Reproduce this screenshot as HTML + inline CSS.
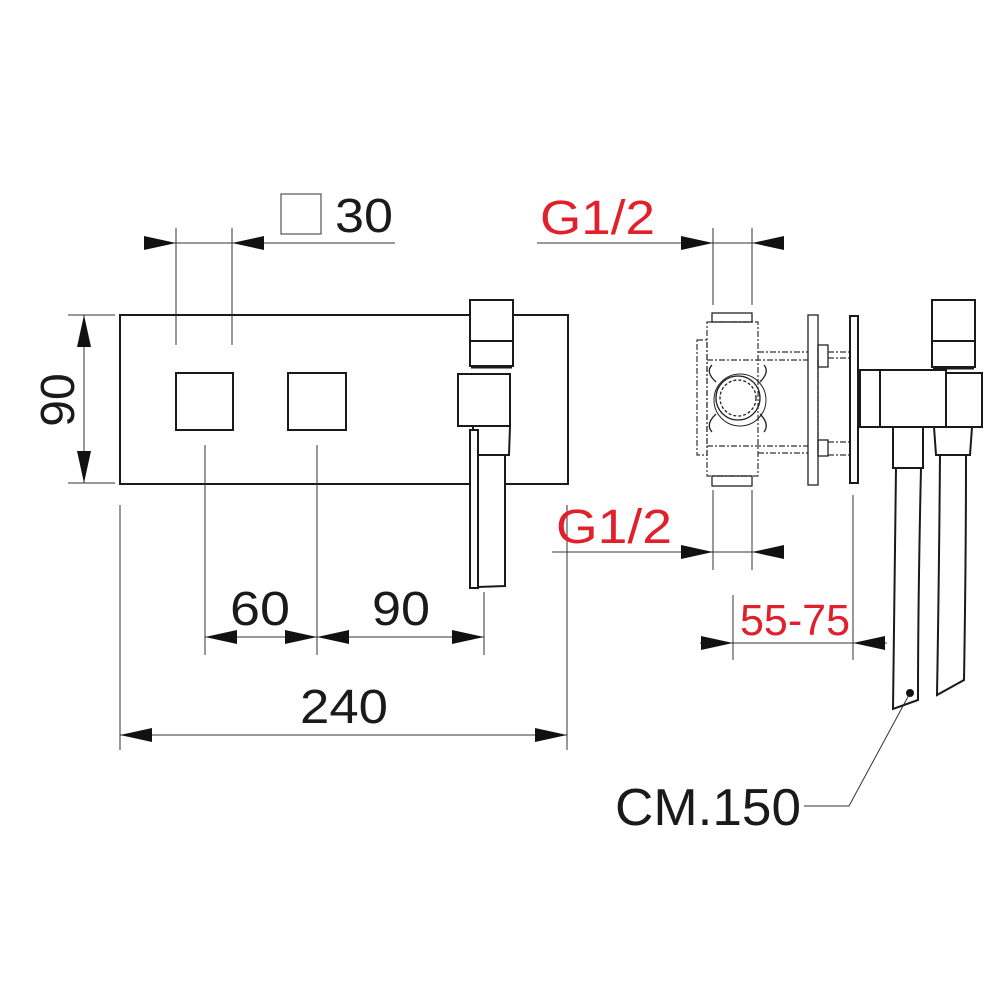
<!DOCTYPE html>
<html><head><style>html,body{margin:0;padding:0;background:#fff}svg{display:block}</style></head>
<body>
<svg width="1000" height="1000" viewBox="0 0 1000 1000" xmlns="http://www.w3.org/2000/svg" font-family="Liberation Sans, Arial, sans-serif">
<g fill="none" stroke="#1a1a1a" stroke-width="2">
<rect x="120" y="315" width="448" height="169"/>
<rect x="176" y="373" width="57" height="57"/>
<rect x="288" y="373" width="58" height="57"/>
<rect x="470" y="300" width="43" height="66" fill="#fff"/>
<line x1="470" y1="341" x2="513" y2="341"/>
<line x1="471" y1="367" x2="512" y2="367" stroke-width="3"/>
<rect x="458" y="374" width="52" height="52" fill="#fff"/>
<polygon points="473,426 510,426 509,455 473,455" fill="#fff"/>
<polygon points="470,430 478,430 478,588 470,588" fill="#fff"/>
<polygon points="478,455 505,455 505,586 478,587" fill="#fff"/>
</g>
<g fill="none" stroke="#333" stroke-width="1">
<line x1="176" y1="228" x2="176" y2="345"/><line x1="232" y1="228" x2="232" y2="345"/>
<line x1="144" y1="243" x2="395" y2="243"/>
<rect x="281" y="194" width="40" height="40"/>
<line x1="68" y1="315" x2="115" y2="315"/><line x1="68" y1="483" x2="115" y2="483"/>
<line x1="84" y1="315" x2="84" y2="483"/>
<line x1="205" y1="445" x2="205" y2="655"/><line x1="317" y1="445" x2="317" y2="655"/>
<line x1="484" y1="592" x2="484" y2="655"/>
<line x1="205" y1="637" x2="484" y2="637"/>
<line x1="120" y1="505" x2="120" y2="750"/><line x1="567" y1="505" x2="567" y2="750"/>
<line x1="120" y1="735" x2="567" y2="735"/>
<line x1="537" y1="243" x2="783" y2="243"/>
<line x1="713" y1="228" x2="713" y2="305"/><line x1="752" y1="228" x2="752" y2="305"/>
<line x1="713" y1="490" x2="713" y2="570"/><line x1="752" y1="490" x2="752" y2="570"/>
<line x1="552" y1="552" x2="783" y2="552"/>
<line x1="733" y1="595" x2="733" y2="660"/><line x1="853" y1="495" x2="853" y2="660"/>
<line x1="700" y1="643" x2="887" y2="643"/>
<polyline points="804,806 849,806 910,693"/>
</g>
<g fill="#111">
<polygon points="144,236 176,243 144,250"/><polygon points="264,236 232,243 264,250"/>
<polygon points="77,347 84,315 91,347"/><polygon points="77,451 84,483 91,451"/>
<polygon points="237,630 205,637 237,644"/><polygon points="285,630 317,637 285,644"/>
<polygon points="349,630 317,637 349,644"/><polygon points="452,630 484,637 452,644"/>
<polygon points="152,728 120,735 152,742"/><polygon points="535,728 567,735 535,742"/>
<polygon points="681,236 713,243 681,250"/><polygon points="784,236 752,243 784,250"/>
<polygon points="681,545 713,552 681,559"/><polygon points="784,545 752,552 784,559"/>
<polygon points="701,636 733,643 701,650"/><polygon points="885,636 853,643 885,650"/>
<circle cx="910" cy="693" r="4"/>
</g>
<g fill="none" stroke="#333" stroke-width="1.2" stroke-dasharray="6,2,2,2">
<rect x="707" y="322" width="51" height="154"/>
<rect x="697" y="340" width="10" height="115"/>
<line x1="707" y1="360" x2="808" y2="360"/><line x1="707" y1="446" x2="808" y2="446"/>
<line x1="758" y1="352" x2="808" y2="352"/><line x1="758" y1="453" x2="808" y2="453"/>
<line x1="828" y1="352" x2="850" y2="352"/><line x1="828" y1="358" x2="850" y2="358"/>
<line x1="828" y1="442" x2="850" y2="442"/><line x1="828" y1="455" x2="850" y2="455"/>
<line x1="818" y1="360" x2="818" y2="450"/>
</g>
<g fill="none" stroke="#222" stroke-width="1.3">
<rect x="712" y="313" width="40" height="9"/><rect x="712" y="476" width="40" height="10"/>
<circle cx="738" cy="398" r="22"/><circle cx="738" cy="398" r="18" stroke-dasharray="3,2"/>
<circle cx="740" cy="400" r="26" stroke-width="1"/>
<rect x="808" y="315" width="10" height="170"/>
<rect x="818" y="345" width="10" height="22"/><rect x="818" y="440" width="10" height="16"/>
<path d="M716 382 Q705 372 712 365 M760 382 Q770 372 764 365 M716 414 Q705 424 712 432 M760 414 Q770 424 764 432"/>
</g>
<g fill="none" stroke="#1a1a1a" stroke-width="2">
<rect x="850" y="316" width="8" height="167"/>
<rect x="860" y="370" width="86" height="57" fill="#fff"/>
<line x1="880" y1="370" x2="880" y2="427"/>
<rect x="946" y="373" width="36" height="54"/>
<rect x="932" y="300" width="43" height="67" fill="#fff"/>
<line x1="932" y1="341" x2="975" y2="341"/>
<line x1="933" y1="368" x2="974" y2="368" stroke-width="3"/>
<rect x="893" y="427" width="30" height="41"/>
<polygon points="934,427 972,427 970,455 936,455"/>
<path d="M896 468 Q894 600 893 709 L918 700 Q918 600 921 468"/>
<path d="M940 455 Q939 580 937 695 L964 680 Q966 560 966 455"/>
</g>
<g font-size="48" fill="#1a1a1a">
<text x="335" y="232" textLength="58" lengthAdjust="spacingAndGlyphs">30</text>
<text x="230" y="625" textLength="60" lengthAdjust="spacingAndGlyphs">60</text>
<text x="372" y="625" textLength="58" lengthAdjust="spacingAndGlyphs">90</text>
<text x="300" y="723" textLength="88" lengthAdjust="spacingAndGlyphs">240</text>
<text transform="translate(74,400) rotate(-90)" text-anchor="middle">90</text>
<text x="615" y="825" font-size="52" textLength="186" lengthAdjust="spacingAndGlyphs">CM.150</text>
</g>
<g font-size="48" fill="#e0202a">
<text x="540" y="234" textLength="115" lengthAdjust="spacingAndGlyphs">G1/2</text>
<text x="556" y="543" textLength="116" lengthAdjust="spacingAndGlyphs">G1/2</text>
<text x="740" y="635" font-size="44" textLength="110" lengthAdjust="spacingAndGlyphs">55-75</text>
</g>
</svg>
</body></html>
